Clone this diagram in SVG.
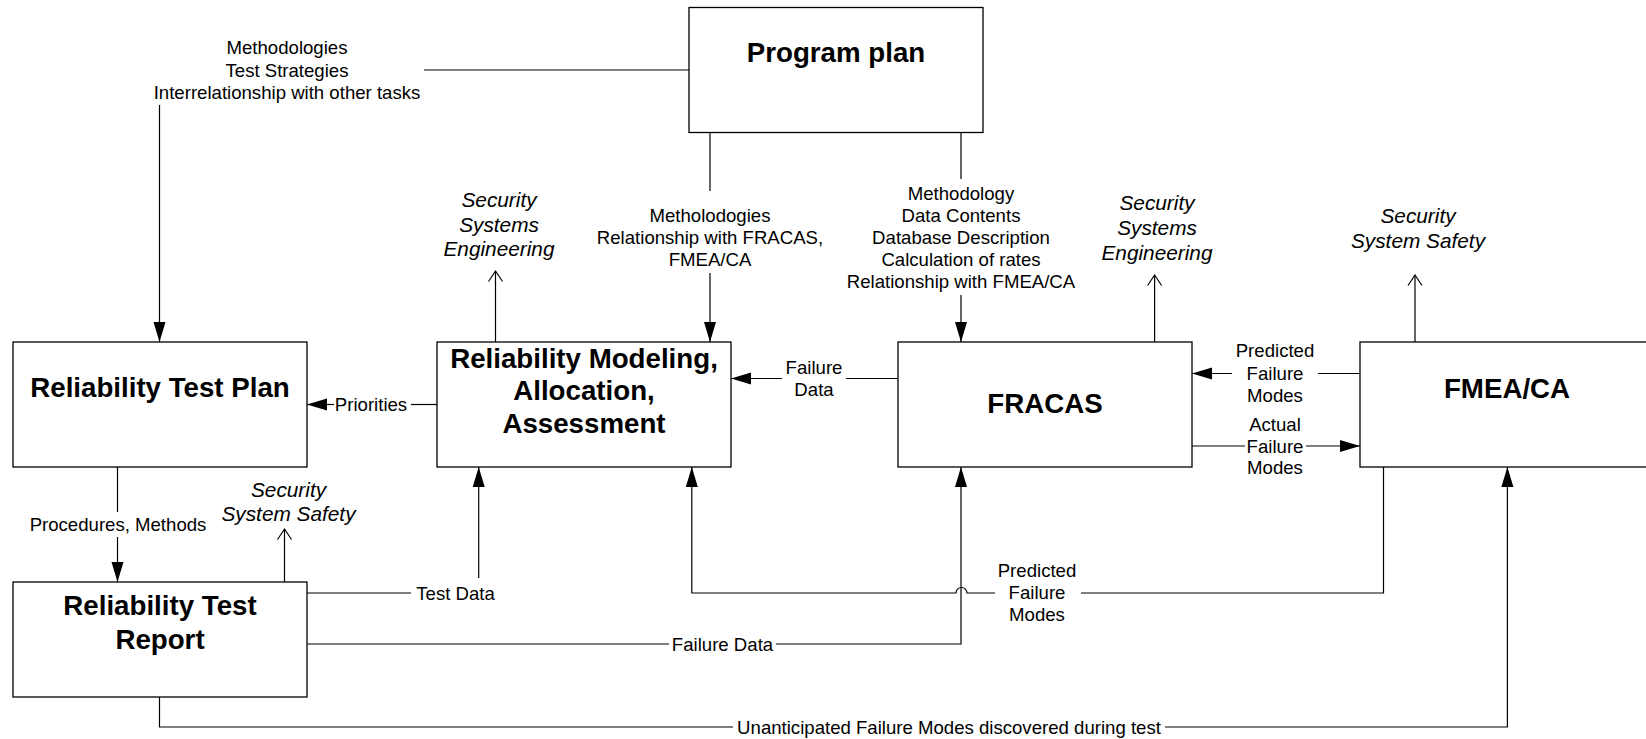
<svg xmlns="http://www.w3.org/2000/svg" width="1646" height="739" viewBox="0 0 1646 739">
<style>
.box{fill:#fff;stroke:#000;stroke-width:1.3}
.t{font-family:"Liberation Sans",Arial,sans-serif;font-size:18.6px;text-anchor:middle;fill:#000}
.i{font-family:"Liberation Sans",Arial,sans-serif;font-size:20.8px;font-style:italic;text-anchor:middle;fill:#000}
.b{font-family:"Liberation Sans",Arial,sans-serif;font-size:27.7px;font-weight:bold;text-anchor:middle;fill:#000}
.c{fill:none;stroke:#000;stroke-width:1.2}
.a{marker-end:url(#fa)}
.o{marker-end:url(#oa)}
</style>
<defs>
<marker id="fa" markerUnits="userSpaceOnUse" markerWidth="20" markerHeight="12" refX="20" refY="6" orient="auto" overflow="visible">
<path d="M0,0 L20,6 L0,12 z" fill="#000"/>
</marker>
<marker id="oa" markerUnits="userSpaceOnUse" markerWidth="11" markerHeight="15" refX="10.5" refY="7" orient="auto" overflow="visible">
<path d="M0,0 L10.5,7 L0,14" fill="none" stroke="#000" stroke-width="1.2"/>
</marker>
</defs>
<rect width="1646" height="739" fill="#fff"/>
<g id="connectors">
<path class="c" d="M689,70 H424"/>
<path class="c a" d="M159.5,105 V342"/>
<path class="c" d="M710,132 V191"/>
<path class="c a" d="M710,273 V342"/>
<path class="c" d="M961,132 V179"/>
<path class="c a" d="M961,295 V342"/>
<path class="c o" d="M495.5,342 V271"/>
<path class="c o" d="M1154.6,347 V275"/>
<path class="c o" d="M1415,347 V275"/>
<path class="c" d="M437,404.5 H411"/>
<path class="c a" d="M334,404.5 H307"/>
<path class="c" d="M898,378.5 H846"/>
<path class="c a" d="M782,378.5 H731"/>
<path class="c" d="M1360,373.5 H1318"/>
<path class="c a" d="M1232,373.5 H1192"/>
<path class="c" d="M1192,446 H1245"/>
<path class="c a" d="M1306,446 H1360"/>
<path class="c" d="M117.5,467 V512"/>
<path class="c a" d="M117.5,537 V582"/>
<path class="c o" d="M284.5,582 V529"/>
<path class="c" d="M307,593 H411"/>
<path class="c a" d="M478.7,578 V467"/>
<path class="c" d="M1383.5,467 V593 H1081"/>
<path class="c a" d="M995,593 H967 A5.5,5.5 0 0 0 956,593 H691.8 V467"/>
<path class="c" d="M307,644 H669"/>
<path class="c a" d="M776,644 H961 V467"/>
<path class="c" d="M159.5,697 V727 H733"/>
<path class="c a" d="M1165,727 H1507.4 V467"/>
</g>
<g id="labels">
<text class="t" x="287" y="54">Methodologies</text>
<text class="t" x="287" y="76.5">Test Strategies</text>
<text class="t" x="287" y="98.5">Interrelationship with other tasks</text>
<text class="t" x="710" y="221.5">Metholodogies</text>
<text class="t" x="710" y="243.5">Relationship with FRACAS,</text>
<text class="t" x="710" y="265.5">FMEA/CA</text>
<text class="t" x="961" y="199.5">Methodology</text>
<text class="t" x="961" y="221.5">Data Contents</text>
<text class="t" x="961" y="243.5">Database Description</text>
<text class="t" x="961" y="266">Calculation of rates</text>
<text class="t" x="961" y="288">Relationship with FMEA/CA</text>
<text class="t" x="371" y="411">Priorities</text>
<text class="t" x="814" y="374">Failure</text>
<text class="t" x="814" y="395.5">Data</text>
<text class="t" x="1275" y="357">Predicted</text>
<text class="t" x="1275" y="379.5">Failure</text>
<text class="t" x="1275" y="401.5">Modes</text>
<text class="t" x="1275" y="430.5">Actual</text>
<text class="t" x="1275" y="452.5">Failure</text>
<text class="t" x="1275" y="474">Modes</text>
<text class="t" x="118" y="530.5">Procedures, Methods</text>
<text class="t" x="455.6" y="599.5">Test Data</text>
<text class="t" x="1037" y="576.5">Predicted</text>
<text class="t" x="1037" y="598.5">Failure</text>
<text class="t" x="1037" y="620.5">Modes</text>
<text class="t" x="722.5" y="650.5">Failure Data</text>
<text class="t" x="949" y="733.5">Unanticipated Failure Modes discovered during test</text>
<text class="i" x="499" y="207">Security</text>
<text class="i" x="499" y="232">Systems</text>
<text class="i" x="499" y="256">Engineering</text>
<text class="i" x="1157" y="210">Security</text>
<text class="i" x="1157" y="235">Systems</text>
<text class="i" x="1157" y="260">Engineering</text>
<text class="i" x="1418" y="223">Security</text>
<text class="i" x="1418" y="248">System Safety</text>
<text class="i" x="288.5" y="497">Security</text>
<text class="i" x="288.5" y="521">System Safety</text>
</g>
<g id="program-plan">
<rect class="box" x="689" y="7.5" width="294" height="125"/>
<text class="b" x="836" y="62">Program plan</text>
</g>
<g id="reliability-test-plan">
<rect class="box" x="13" y="342" width="294" height="125"/>
<text class="b" x="160" y="396.5">Reliability Test Plan</text>
</g>
<g id="reliability-modeling">
<rect class="box" x="437" y="342" width="294" height="125"/>
<text class="b" x="584" y="367.5">Reliability Modeling,</text>
<text class="b" x="584" y="400">Allocation,</text>
<text class="b" x="584" y="432.5">Assessment</text>
</g>
<g id="fracas">
<rect class="box" x="898" y="342" width="294" height="125"/>
<text class="b" x="1045" y="412.5">FRACAS</text>
</g>
<g id="fmea-ca">
<rect class="box" x="1360" y="342" width="294" height="125"/>
<text class="b" x="1507" y="397.5">FMEA/CA</text>
</g>
<g id="reliability-test-report">
<rect class="box" x="13" y="582" width="294" height="115"/>
<text class="b" x="160" y="615">Reliability Test</text>
<text class="b" x="160" y="648.5">Report</text>
</g>
</svg>
